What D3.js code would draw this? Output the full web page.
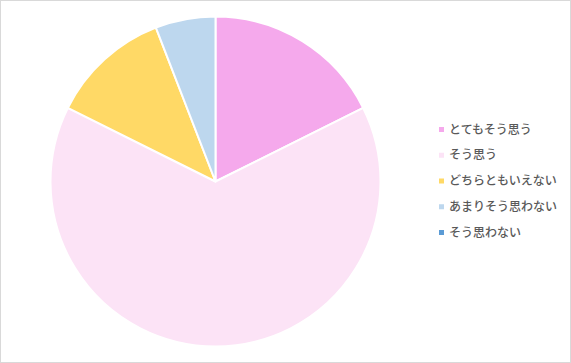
<!DOCTYPE html>
<html>
<head>
<meta charset="utf-8">
<script src="https://cdn.jsdelivr.net/npm/d3@7"></script>
<style>
  body { margin: 0; background: #fff; }
  svg { display: block; }
</style>
</head>
<body>
<div id="chart"></div>
<script>
// answers and counts
const categories = ["とてもそう思う", "そう思う", "どちらともいえない", "あまりそう思わない", "そう思わない"];
const counts = [3, 11, 2, 1, 0];
const colors = ["#F5A9EC", "#FCE3F6", "#FFD966", "#BDD7EE", "#5B9BD5"];

const width = 571, height = 363;
const cx = 215.5, cy = 181.5, radius = 165;

const svg = d3.select("#chart").append("svg")
    .attr("width", width)
    .attr("height", height);

// chart border
svg.append("rect")
    .attr("x", 0.5).attr("y", 0.5)
    .attr("width", width - 1).attr("height", height - 1)
    .attr("fill", "#fff")
    .attr("stroke", "#d9d9d9");

const data = categories.map((c, i) => ({ name: c, value: counts[i], color: colors[i] }));

const pie = d3.pie().sort(null).value(d => d.value);
const arc = d3.arc().innerRadius(0).outerRadius(radius);

svg.append("g")
    .attr("transform", `translate(${cx},${cy})`)
    .selectAll("path")
    .data(pie(data).filter(d => d.data.value > 0))
    .join("path")
    .attr("d", arc)
    .attr("fill", d => d.data.color)
    .attr("stroke", "#fff")
    .attr("stroke-width", 2)
    .attr("stroke-linejoin", "round");

// legend
const legendY = d3.scalePoint()
    .domain(categories)
    .range([129.5, 232.5]);

const legend = svg.append("g")
    .selectAll("g")
    .data(data)
    .join("g")
    .attr("transform", d => `translate(439,${legendY(d.name)})`);

legend.append("rect")
    .attr("x", 0).attr("y", -2.5)
    .attr("width", 5).attr("height", 5)
    .attr("fill", d => d.color);

legend.append("text")
    .attr("x", 10)
    .attr("y", 0)
    .attr("dy", "0.35em")
    .attr("fill", "#595959")
    .style("font-family", "'Noto Sans CJK JP', sans-serif")
    .style("font-size", "12px")
    .style("font-weight", 500)
    .text(d => d.name);
</script>
</body>
</html>
